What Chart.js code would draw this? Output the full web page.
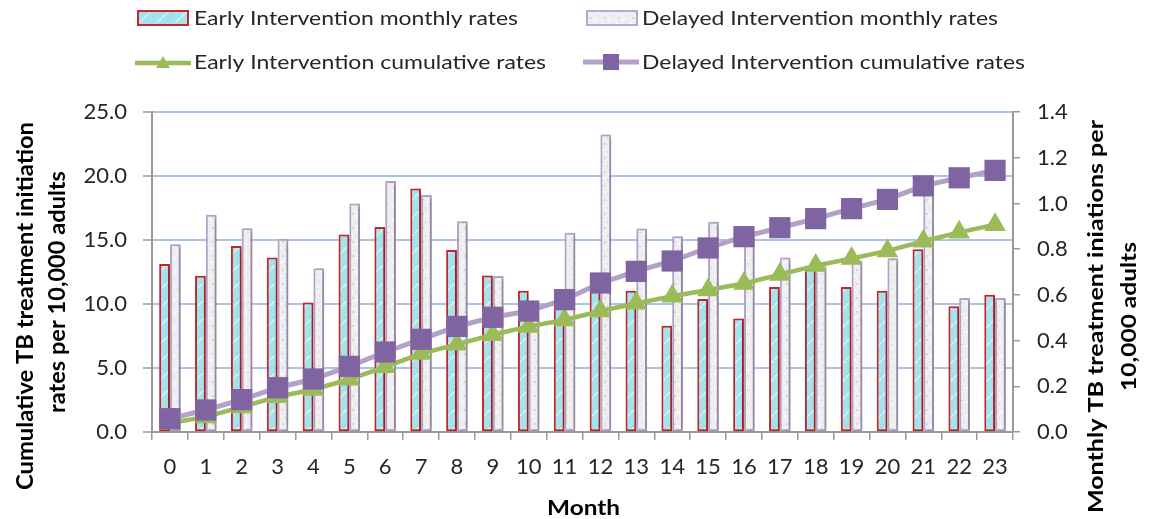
<!DOCTYPE html>
<html>
<head>
<meta charset="utf-8">
<script src="https://cdn.jsdelivr.net/npm/chart.js@4.4.1/dist/chart.umd.min.js"></script>
<style>
html,body{margin:0;padding:0;background:#fff;}
#wrap{width:1151px;height:519px;position:relative;}
</style>
</head>
<body>
<div id="wrap"><canvas id="c"></canvas></div>
<script>
// ---- data ----
const months = ['0','1','2','3','4','5','6','7','8','9','10','11','12','13','14','15','16','17','18','19','20','21','22','23'];
const seriesNames = [
  'Early Intervention monthly rates',
  'Delayed Intervention monthly rates',
  'Early Intervention cumulative rates',
  'Delayed Intervention cumulative rates'
];
const earlyMonthly = [0.735,0.684,0.814,0.763,0.567,0.864,0.897,1.065,0.796,0.685,0.618,0.58,0.627,0.618,0.465,0.582,0.497,0.634,0.716,0.634,0.618,0.799,0.55,0.601];
const delayedMonthly = [0.821,0.951,0.891,0.846,0.716,1.0,1.098,1.037,0.922,0.683,0.50,0.872,1.302,0.890,0.856,0.920,0.868,0.763,0.725,0.750,0.760,1.081,0.586,0.586];
const earlyCumulative = [0.7,1.18,1.96,2.75,3.32,4.12,5.09,6.13,6.85,7.6,8.25,8.75,9.45,10.05,10.6,11.1,11.6,12.3,13.0,13.55,14.15,14.9,15.6,16.2];
const delayedCumulative = [1.04,1.72,2.53,3.46,4.14,5.13,6.25,7.24,8.25,8.96,9.45,10.34,11.64,12.55,13.36,14.38,15.26,15.96,16.67,17.45,18.17,19.23,19.86,20.44];
const leftTickValues = [0,5,10,15,20,25];
const rightTickValues = [0,0.2,0.4,0.6,0.8,1.0,1.2,1.4];
const leftTitle = ['Cumulative TB treatment initiation','rates per 10,000 adults'];
const rightTitle = ['Monthly TB treatment iniations per','10,000 adults'];
const xTitle = 'Month';

// ---- styles ----
const RED = '#c8262c', LAV = '#b9a7cf', GREEN = '#9bbb59', PURPLE = '#8064a2', PURPLE_L = '#b3a2c7';
const canvas = document.getElementById('c');
const mctx = canvas.getContext('2d');

function cyanPattern(){
  const c = document.createElement('canvas'); c.width = 18; c.height = 18;
  const g = c.getContext('2d');
  g.fillStyle = '#a4e2ec'; g.fillRect(0,0,18,18);
  g.strokeStyle = 'rgba(255,255,255,0.45)'; g.lineWidth = 2;
  g.beginPath(); g.moveTo(0,18); g.lineTo(18,0); g.stroke();
  g.fillStyle = 'rgba(90,175,195,0.25)';
  g.fillRect(3,11,2,2); g.fillRect(12,4,2,2); g.fillRect(8,15,2,2);
  return mctx.createPattern(c,'repeat');
}
function greyPattern(){
  const c = document.createElement('canvas'); c.width = 14; c.height = 14;
  const g = c.getContext('2d');
  g.fillStyle = '#efefef'; g.fillRect(0,0,14,14);
  g.fillStyle = 'rgba(170,170,170,0.35)';
  g.fillRect(2,3,2,2); g.fillRect(9,8,2,1); g.fillRect(5,11,1,2); g.fillRect(11,1,1,2);
  g.fillStyle = 'rgba(255,255,255,0.8)';
  g.fillRect(6,5,2,2); g.fillRect(0,9,2,2);
  return mctx.createPattern(c,'repeat');
}
const CYAN_P = cyanPattern();
const GREY_P = greyPattern();

const FONT = 'Lato';
Chart.defaults.font.family = FONT;

function drawFit(ctx, text, x, y, width, font, align, rotate){
  ctx.save();
  ctx.font = font;
  const w = ctx.measureText(text).width;
  const sx = width / w;
  ctx.translate(x, y);
  if (rotate) ctx.rotate(-Math.PI/2);
  ctx.scale(sx, 1);
  ctx.textBaseline = 'alphabetic';
  ctx.textAlign = align;
  ctx.fillText(text, 0, 0);
  ctx.restore();
}

const shadowPlugin = {
  id: 'barShadow',
  beforeDatasetDraw(chart, args){
    if (chart.data.datasets[args.index].type === 'bar'){
      const ctx = chart.ctx; ctx.save();
      ctx.shadowColor = 'rgba(0,0,0,0.3)'; ctx.shadowBlur = 5;
      ctx.shadowOffsetX = 2; ctx.shadowOffsetY = 1;
    }
  },
  afterDatasetDraw(chart, args){
    if (chart.data.datasets[args.index].type === 'bar') chart.ctx.restore();
  }
};

const decorPlugin = {
  id: 'decor',
  afterDraw(chart){
    const ctx = chart.ctx;
    const ds = chart.data.datasets;
    // legend
    const items = [
      {i:0, sx:137, cy:18, tx:194, base:25, tw:324},
      {i:1, sx:586, cy:18, tx:642, base:25, tw:356},
      {i:2, sx:135, cy:63, tx:194, base:68.5, tw:352},
      {i:3, sx:583, cy:62, tx:642, base:68.5, tw:383}
    ];
    items.forEach(it => {
      const d = ds[it.i];
      ctx.save();
      if (d.type === 'bar'){
        ctx.fillStyle = d.backgroundColor;
        ctx.fillRect(it.sx, it.cy-8, 52, 16);
        ctx.strokeStyle = d.borderColor; ctx.lineWidth = 2;
        ctx.strokeRect(it.sx+1, it.cy-7, 50, 14);
      } else {
        ctx.strokeStyle = d.borderColor; ctx.lineWidth = d.borderWidth;
        ctx.beginPath(); ctx.moveTo(it.sx, it.cy); ctx.lineTo(it.sx+56, it.cy); ctx.stroke();
        ctx.fillStyle = d.pointBackgroundColor;
        const mx = it.sx + 28;
        if (d.pointStyle === 'triangle'){
          ctx.beginPath(); ctx.moveTo(mx, it.cy-7); ctx.lineTo(mx+7, it.cy+5); ctx.lineTo(mx-7, it.cy+5); ctx.closePath(); ctx.fill();
        } else {
          ctx.fillRect(mx-8, it.cy-8, 16, 16);
        }
      }
      ctx.fillStyle = '#262626';
      drawFit(ctx, d.label, it.tx, it.base, it.tw, '19px ' + FONT, 'left', false);
      ctx.restore();
    });
    // axis titles
    ctx.save();
    ctx.fillStyle = '#000';
    drawFit(ctx, leftTitle[0], 33, 306, 368, 'bold 22px ' + FONT, 'center', true);
    drawFit(ctx, leftTitle[1], 65, 292, 242, 'bold 22px ' + FONT, 'center', true);
    drawFit(ctx, rightTitle[0], 1103, 316.5, 393, 'bold 21px ' + FONT, 'center', true);
    drawFit(ctx, rightTitle[1], 1136, 316.5, 149, 'bold 21px ' + FONT, 'center', true);
    drawFit(ctx, xTitle, 583.5, 515, 73, 'bold 21px ' + FONT, 'center', false);
    ctx.restore();
  }
};

new Chart(canvas, {
  type: 'bar',
  data: {
    labels: months,
    datasets: [
      { type:'bar', label: seriesNames[0], data: earlyMonthly, yAxisID:'y1', order:2,
        backgroundColor: CYAN_P, borderColor: RED, borderWidth: 2, borderSkipped: false,
        categoryPercentage: 0.6, barPercentage: 1.0 },
      { type:'bar', label: seriesNames[1], data: delayedMonthly, yAxisID:'y1', order:2,
        backgroundColor: GREY_P, borderColor: LAV, borderWidth: 2, borderSkipped: false,
        categoryPercentage: 0.6, barPercentage: 1.0 },
      { type:'line', label: seriesNames[2], data: earlyCumulative, yAxisID:'y', order:1,
        borderColor: GREEN, borderWidth: 4.5, tension: 0, fill: false,
        pointStyle: 'triangle', pointRadius: 12.5, pointHoverRadius: 12.5,
        pointBackgroundColor: GREEN, pointBorderWidth: 0 },
      { type:'line', label: seriesNames[3], data: delayedCumulative, yAxisID:'y', order:0,
        borderColor: PURPLE_L, borderWidth: 5, tension: 0, fill: false,
        pointStyle: 'rect', pointRadius: 15, pointHoverRadius: 15,
        pointBackgroundColor: PURPLE, pointBorderWidth: 0 }
    ]
  },
  options: {
    responsive: true,
    maintainAspectRatio: false,
    animation: false,
    events: [],
    layout: { padding: { top: 112, left: 0, right: 0, bottom: 0 } },
    plugins: { legend: { display: false }, tooltip: { enabled: false }, title: { display: false } },
    scales: {
      x: {
        offset: true,
        grid: { drawOnChartArea: false, offset: true, tickLength: 8, tickColor: '#9a9a9a', lineWidth: 1.5 },
        border: { color: '#9a9a9a', width: 2 },
        ticks: { font: { size: 22 }, color: '#262626', padding: 14, maxRotation: 0, autoSkip: false },
        afterFit: s => { s.height = 87; }
      },
      y: {
        position: 'left', min: 0, max: 25,
        afterBuildTicks: s => { s.ticks = leftTickValues.map(v => ({ value: v })); },
        ticks: { font: { size: 22 }, color: '#262626', padding: 16, callback: v => Number(v).toFixed(1) },
        grid: { color: '#aac3e9', lineWidth: 2, tickLength: 9, tickColor: '#9a9a9a', tickWidth: 1.5 },
        border: { color: '#9a9a9a', width: 2 },
        afterFit: s => { s.width = 152; }
      },
      y1: {
        position: 'right', min: 0, max: 1.4,
        afterBuildTicks: s => { s.ticks = rightTickValues.map(v => ({ value: v })); },
        ticks: { font: { size: 22 }, color: '#262626', padding: 17, callback: v => Number(v).toFixed(1) },
        grid: { drawOnChartArea: false, tickLength: 7, tickColor: '#9a9a9a', lineWidth: 1.5 },
        border: { color: '#9a9a9a', width: 2 },
        afterFit: s => { s.width = 138; }
      }
    }
  },
  plugins: [shadowPlugin, decorPlugin]
});
</script>
</body>
</html>
